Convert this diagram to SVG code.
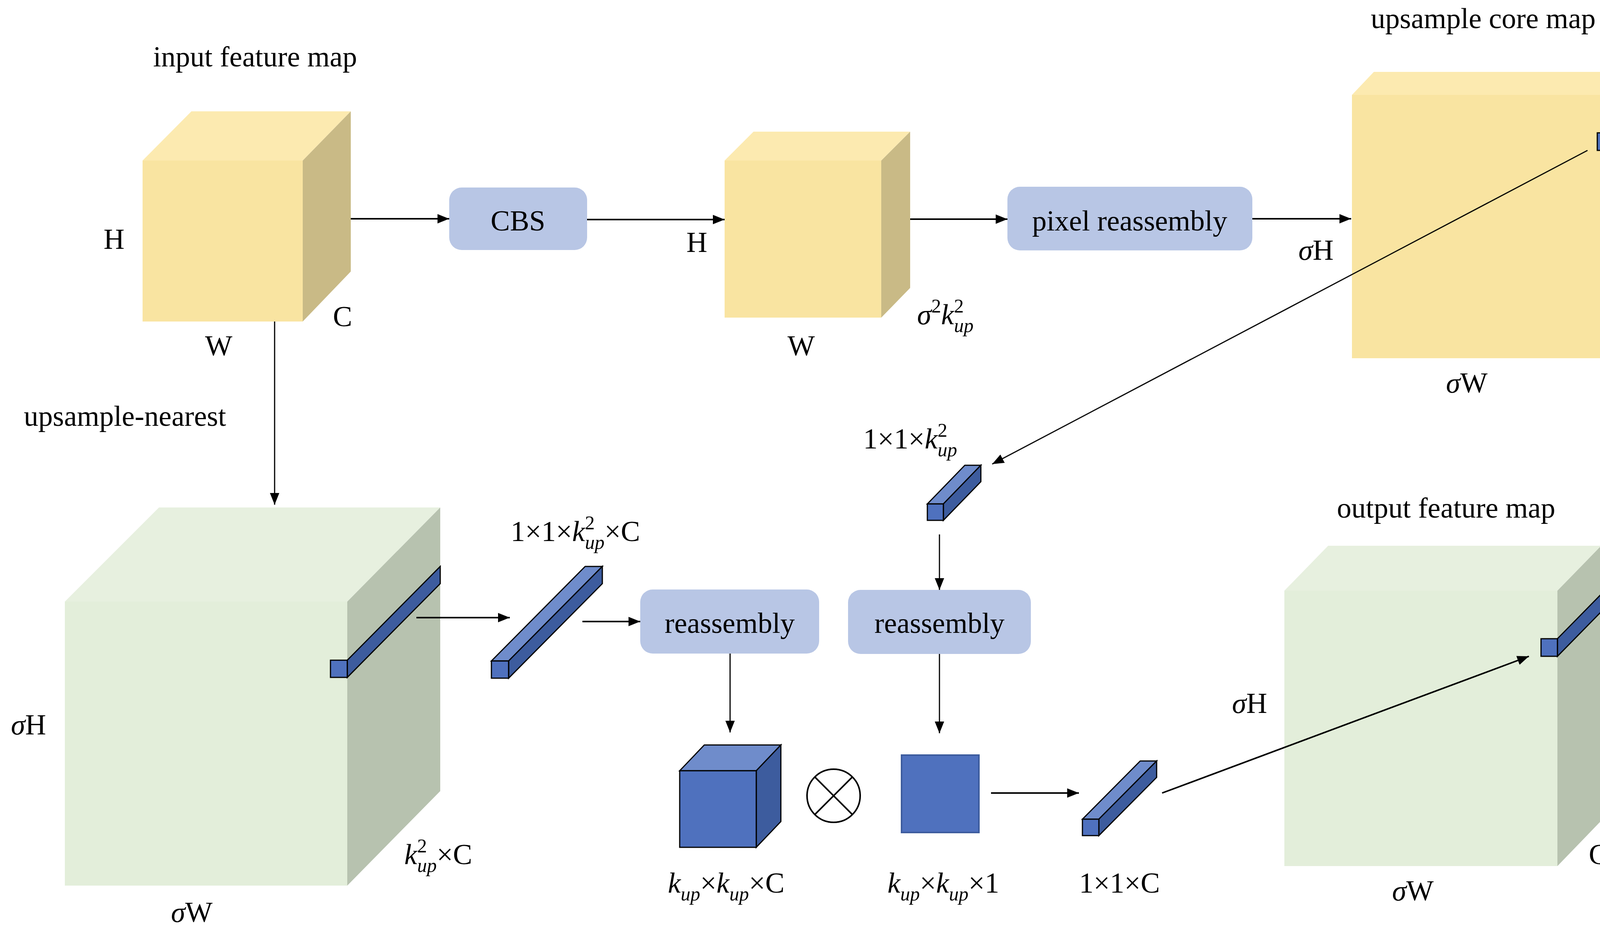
<svg xmlns="http://www.w3.org/2000/svg" width="4323" height="2396" viewBox="0 0 4323 2396">
<style>
text{font-family:"Liberation Serif",serif;font-size:74px;fill:#000;text-anchor:middle}
.i{font-style:italic}
.yf{fill:#F9E4A1}.yt{fill:#FCEAB0}.ys{fill:#C9BA86}
.gf{fill:#E3EEDA}.gt{fill:#E7F0DF}.gs{fill:#B7C2AF}
.bf{fill:#4F71BE;stroke:#000;stroke-width:3}.bt{fill:#6F8CCB;stroke:#000;stroke-width:3}.bs{fill:#3D5C9E;stroke:#000;stroke-width:3}
.box{fill:#B8C6E5}
.ln{stroke:#000;stroke-width:4;fill:none}
</style>
<defs><marker id="ah" markerWidth="10" markerHeight="8" refX="9" refY="4" orient="auto" markerUnits="userSpaceOnUse" viewBox="0 0 10 8"><path d="M0,0L10,4L0,8z" fill="#000"/></marker>
<marker id="a" viewBox="0 0 10 10" refX="10" refY="5" markerWidth="30" markerHeight="30" markerUnits="userSpaceOnUse" orient="auto"><path d="M0,1L10,5L0,9z" fill="#000"/></marker></defs>

<g id="input-cube">
<polygon class="yt" points="365,411 490,285 898,285 775,411"/>
<polygon class="ys" points="775,411 898,285 898,695 775,823"/>
<rect class="yf" x="365" y="411" width="410" height="412"/>
<text x="653" y="170">input feature map</text>
<text x="292" y="637">H</text><text x="560" y="910">W</text><text x="877" y="835">C</text>
</g>
<g id="cbs"><rect class="box" x="1150" y="480" width="353" height="160" rx="32"/><text x="1326" y="590">CBS</text></g>
<g id="cube2">
<polygon class="yt" points="1855,411 1929,337 2330,337 2256,411"/>
<polygon class="ys" points="2256,411 2330,337 2330,737 2256,813"/>
<rect class="yf" x="1855" y="411" width="401" height="402"/>
<text x="1784" y="645">H</text><text x="2051" y="910">W</text>
<text x="2420" y="830" class="i">σ<tspan font-size="50" dy="-30" font-style="normal">2</tspan><tspan dy="30">k</tspan><tspan font-size="50" dy="-30" font-style="normal">2</tspan><tspan font-size="50" dx="-25" dy="50">up</tspan></text>
</g>
<g id="pixel-reassembly"><rect class="box" x="2579" y="478" width="627" height="163" rx="32"/><text x="2892" y="590">pixel reassembly</text></g>
<g id="core-map">
<polygon class="yt" points="3461,243 3517,184 4189,184 4133,243"/>
<polygon class="ys" points="4133,243 4189,184 4189,857 4133,917"/>
<rect class="yf" x="3461" y="243" width="672" height="674"/>
<polygon class="bs" points="4133,340 4189,285 4189,329 4133,385"/>
<rect class="bf" x="4089" y="340" width="44" height="45"/>
<text x="3797" y="72">upsample core map</text>
<text x="3369" y="665"><tspan class="i">σ</tspan>H</text>
<text x="3755" y="1005"><tspan class="i">σ</tspan>W</text>
<text x="4225" y="935" class="i">k<tspan font-size="50" dy="-30" font-style="normal">2</tspan><tspan font-size="50" dx="-25" dy="50">up</tspan></text>
</g>
<g id="kernel-bar">
<polygon class="bt" points="2374,1290 2415,1290 2511,1191 2470,1191"/>
<polygon class="bs" points="2415,1290 2511,1191 2511,1233 2415,1332"/>
<rect class="bf" x="2374" y="1290" width="41" height="42"/>
<text x="2330" y="1148"><tspan>1×1×</tspan><tspan class="i">k</tspan><tspan font-size="50" dy="-30">2</tspan><tspan font-size="50" class="i" dx="-25" dy="50">up</tspan></text>
</g>
<g id="reassembly2"><rect class="box" x="2171" y="1510" width="468" height="164" rx="32"/><text x="2405" y="1620">reassembly</text></g>
<g id="kernel-square"><rect x="2308" y="1933" width="198" height="198" fill="#4F71BE" stroke="#3D5C9E" stroke-width="4"/>
<text x="2415" y="2285"><tspan class="i">k</tspan><tspan font-size="50" class="i" dy="20">up</tspan><tspan dy="-20">×</tspan><tspan class="i">k</tspan><tspan font-size="50" class="i" dy="20">up</tspan><tspan dy="-20">×1</tspan></text></g>
<g id="result-bar">
<polygon class="bt" points="2771,2097 2813,2097 2961,1948 2919,1948"/>
<polygon class="bs" points="2813,2097 2961,1948 2961,1990 2813,2139"/>
<rect class="bf" x="2771" y="2097" width="42" height="42"/>
<text x="2866" y="2285">1×1×C</text>
</g>
<g id="output-cube">
<polygon class="gt" points="3288,1512 3400,1397 4099,1397 3987,1512"/>
<polygon class="gs" points="3987,1512 4099,1397 4099,2101 3987,2217"/>
<rect class="gf" x="3288" y="1512" width="699" height="705"/>
<polygon class="bs" points="3987,1635 4099,1521 4099,1566 3987,1680"/>
<rect class="bf" x="3945" y="1635" width="42" height="45"/>
<text x="3702" y="1325">output feature map</text>
<text x="3199" y="1825"><tspan class="i">σ</tspan>H</text>
<text x="4092" y="2212">C</text>
<text x="3617" y="2305"><tspan class="i">σ</tspan>W</text>
</g>
<g id="upsampled-cube">
<polygon class="gt" points="166,1540 407,1299 1127,1299 889,1540"/>
<polygon class="gs" points="889,1540 1127,1299 1127,2025 889,2267"/>
<rect class="gf" x="166" y="1540" width="723" height="727"/>
<polygon class="bs" points="889,1690 1127,1450 1127,1494 889,1734"/>
<rect class="bf" x="846" y="1690" width="43" height="44"/>
<text x="320" y="1090" >upsample-nearest</text>
<text x="73" y="1880"><tspan class="i">σ</tspan>H</text>
<text x="491" y="2360"><tspan class="i">σ</tspan>W</text>
<text x="1122" y="2212"><tspan class="i">k</tspan><tspan font-size="50" dy="-30">2</tspan><tspan font-size="50" class="i" dx="-25" dy="50">up</tspan><tspan dy="-20">×C</tspan></text>
</g>
<g id="feature-bar">
<polygon class="bt" points="1258,1692 1302,1692 1542,1450 1498,1450"/>
<polygon class="bs" points="1302,1692 1542,1450 1542,1494 1302,1736"/>
<rect class="bf" x="1258" y="1692" width="44" height="44"/>
<text x="1473" y="1385"><tspan>1×1×</tspan><tspan class="i">k</tspan><tspan font-size="50" dy="-30">2</tspan><tspan font-size="50" class="i" dx="-25" dy="50">up</tspan><tspan dy="-20">×C</tspan></text>
</g>
<g id="reassembly1"><rect class="box" x="1639" y="1509" width="458" height="164" rx="32"/><text x="1868" y="1620">reassembly</text></g>
<g id="blue-cube">
<polygon class="bt" points="1740,1973 1803,1907 1999,1907 1936,1973"/>
<polygon class="bs" points="1936,1973 1999,1907 1999,2103 1936,2169"/>
<rect class="bf" x="1740" y="1973" width="196" height="196"/>
<text x="1859" y="2285"><tspan class="i">k</tspan><tspan font-size="50" class="i" dy="20">up</tspan><tspan dy="-20">×</tspan><tspan class="i">k</tspan><tspan font-size="50" class="i" dy="20">up</tspan><tspan dy="-20">×C</tspan></text>
</g>
<g id="multiply"><circle cx="2134" cy="2037" r="68" fill="#fff" stroke="#000" stroke-width="4"/><path class="ln" d="M2086,1989L2182,2085M2182,1989L2086,2085"/></g>
<g id="connectors" class="ln">
<line x1="898" y1="560" x2="1150" y2="560" marker-end="url(#a)"/>
<line x1="1503" y1="562" x2="1855" y2="562" marker-end="url(#a)"/>
<line x1="2330" y1="561" x2="2579" y2="561" marker-end="url(#a)"/>
<line x1="3206" y1="560" x2="3459" y2="560" marker-end="url(#a)"/>
<line x1="4064" y1="385" x2="2540" y2="1188" marker-end="url(#a)" stroke-width="3"/>
<line x1="703" y1="823" x2="703" y2="1292" marker-end="url(#a)" stroke-width="3"/>
<line x1="1066" y1="1581" x2="1305" y2="1581" marker-end="url(#a)"/>
<line x1="1491" y1="1591" x2="1639" y2="1591" marker-end="url(#a)"/>
<line x1="1869" y1="1673" x2="1869" y2="1875" marker-end="url(#a)" stroke-width="3"/>
<line x1="2405" y1="1368" x2="2405" y2="1510" marker-end="url(#a)" stroke-width="3"/>
<line x1="2405" y1="1674" x2="2405" y2="1877" marker-end="url(#a)" stroke-width="3"/>
<line x1="2537" y1="2030" x2="2762" y2="2030" marker-end="url(#a)"/>
<line x1="2975" y1="2030" x2="3914" y2="1680" marker-end="url(#a)"/>
</g>
</svg>
